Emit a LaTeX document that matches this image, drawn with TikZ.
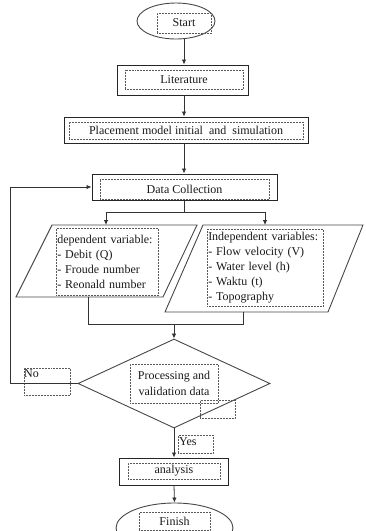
\documentclass[tikz,border=0pt]{standalone}
\usepackage{fontspec}
\setmainfont{Liberation Serif}
\usetikzlibrary{shapes.geometric,arrows.meta,calc}
\begin{document}
\begin{tikzpicture}[x=1pt,y=-1pt,
  every node/.style={font=\fontsize{12}{15}\selectfont, text=black!90},
  boxs/.style={draw=black!85,line width=1pt,inner sep=0pt},
  shp/.style={draw=black!72,line width=0.9pt,inner sep=0pt},
  dot/.style={draw=black!65,densely dotted,line width=0.5pt,inner sep=0pt},
  conn/.style={draw=black!80,line width=0.8pt},
  arr/.style={conn,-{Latex[length=5pt,width=4.5pt]}}]
\useasboundingbox (0,0) rectangle (365,531);

% shapes
\node[shp,ellipse,minimum width=78pt,minimum height=36pt] (start) at (176,21) {};
\node[dot,minimum width=54pt,minimum height=20pt] (starttext) at (184,23) {Start};

\node[boxs,minimum width=131pt,minimum height=30pt] (lit) at (182.5,80) {};
\node[dot,minimum width=118pt,minimum height=19pt] (littext) at (184,79.5) {Literature};

\node[boxs,minimum width=244pt,minimum height=26pt] (place) at (186,130) {};
\node[dot,minimum width=234pt,minimum height=17pt] (placetext) at (186,130.5) {Placement model initial\ \ and\ \ simulation};

\node[boxs,minimum width=185pt,minimum height=26pt] (dc) at (184.5,187) {};
\node[dot,minimum width=169pt,minimum height=20pt] (dctext) at (184.5,189) {Data Collection};

% parallelograms
\draw[shp] (52,225) coordinate (lpTL) -- (197,225) -- (163,297) -- (16,297) -- cycle;
\draw[shp] (203,225) coordinate (rpTL) -- (363,225) -- (328,312) -- (165,312) -- cycle;
\coordinate (lpTop) at (106,225);
\coordinate (rpTop) at (265,225);
\coordinate (lpBot) at (88,297);
\coordinate (rpBot) at (243,312);

\node[dot,anchor=north west,text width=100pt,minimum height=67pt,inner sep=1pt,align=left] (deptext) at (56,228)
  {\hyphenpenalty=10000 dependent variable:\\- Debit (Q)\\- Froude number\\- Reonald number};
\node[dot,anchor=north west,text width=114pt,minimum height=77pt,inner sep=1pt,align=left] (indtext) at (207,229)
  {\hyphenpenalty=10000 Independent variables:\\- Flow velocity (V)\\- Water level (h)\\- Waktu (t)\\- Topography};

% decision
\node[shp,diamond,minimum width=192pt,minimum height=89pt] (dia) at (174,383.5) {};
\node[dot,minimum width=88pt,minimum height=39pt,align=center,font=\fontsize{12}{16}\selectfont] (diatext) at (174,383.5) {Processing and\\validation data};
\node[dot,minimum width=35pt,minimum height=18pt] (artifact) at (217.5,409) {};

% labels
\node[dot,minimum width=46pt,minimum height=27pt] (nobox) at (47,381.5) {};
\node[anchor=north west,inner sep=0pt] (nolabel) at (24,369) {No};
\node[dot,minimum width=35pt,minimum height=18pt] (yesbox) at (195.5,444) {};
\node[anchor=north west,inner sep=0pt] (yeslabel) at (179,437) {Yes};

\node[boxs,minimum width=109pt,minimum height=27pt] (ana) at (174,471.5) {};
\node[dot,minimum width=92pt,minimum height=16pt] (anatext) at (174,471) {analysis};

\node[shp,ellipse,minimum width=117pt,minimum height=50pt] (fin) at (174.5,528) {};
\node[dot,minimum width=71pt,minimum height=18pt] (fintext) at (174.5,521) {Finish};

% connectors
\draw[arr] (start.south -| starttext.south) -- (lit.north -| starttext.south);
\draw[arr] (lit.south -| starttext.south) -- (place.north -| starttext.south);
\draw[arr] (place.south -| starttext.south) -- (dc.north -| starttext.south);
\draw[arr] (dc.south) -- ++(0,12) -| (lpTop);
\draw[arr] (dc.south) -- ++(0,12) -| (rpTop);
\coordinate (merge) at ($(dia.north)+(0,-14)$);
\draw[conn] (lpBot) |- (merge);
\draw[conn] (rpBot) |- (merge);
\draw[arr] (merge) -- (dia.north);
\coordinate (noturn) at (10,383.5);
\draw[arr] (dia.west) -- (noturn) |- (dc.west);
\draw[arr] (dia.south) -- (ana.north);
\draw[arr] (ana.south) -- (fin.north);
\end{tikzpicture}
\end{document}
